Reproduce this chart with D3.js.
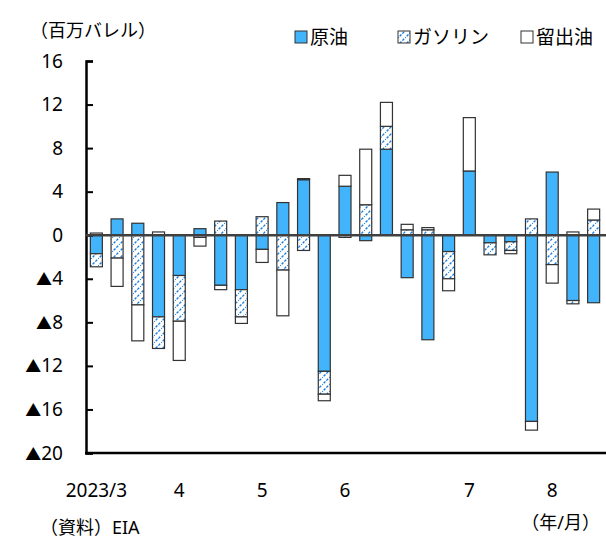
<!DOCTYPE html>
<html>
<head>
<meta charset="utf-8">
<script src="https://cdn.jsdelivr.net/npm/d3@7"></script>
<style>
  body { margin: 0; background: #fff; }
  text { font-family: "Noto Sans", "Noto Sans CJK JP", sans-serif; font-weight: 400; fill: #000; }
</style>
</head>
<body>
<svg></svg>
<script>
// weekly change in US inventories (million barrels)
const weeks = d3.range(25);
const crude = [-1.7, 1.5, 1.1, -7.5, -3.7, 0.6, -4.6, -5.0, -1.3, 3.0, 5.1, -12.5, 4.5, -0.5, 7.9, -3.9, -9.6, -1.5, 5.9, -0.7, -0.6, -17.1, 5.8, -6.0, -6.2];
const gasoline = [-1.2, -2.1, -6.4, -2.9, -4.2, -0.2, 1.3, -2.5, 1.7, -3.2, -1.4, -2.1, -0.2, 2.8, 2.1, 0.5, 0.5, -2.5, 0.0, -1.1, -0.8, 1.5, -2.7, -0.3, 1.4];
const distillate = [0.2, -2.6, -3.3, 0.3, -3.6, -0.8, -0.4, -0.6, -1.2, -4.2, 0.1, -0.6, 1.0, 5.1, 2.2, 0.5, 0.2, -1.1, 4.9, 0.0, -0.3, -0.8, -1.7, 0.3, 1.0];

const seriesNames = ["原油", "ガソリン", "留出油"];
const yTicks = [16, 12, 8, 4, 0, -4, -8, -12, -16, -20];
// month labels sit under the week index where the month starts
const monthTicks = [
  { i: 0, label: "2023/3" },
  { i: 4, label: "4" },
  { i: 8, label: "5" },
  { i: 12, label: "6" },
  { i: 18, label: "7" },
  { i: 22, label: "8" }
];

const width = 606, height = 539;
const margin = { left: 86, right: 2, top: 61, bottom: 86 };

const svg = d3.select("svg").attr("width", width).attr("height", height);

const defs = svg.append("defs");
const hatch = defs.append("pattern")
  .attr("id", "hatch")
  .attr("patternUnits", "userSpaceOnUse")
  .attr("width", 7)
  .attr("height", 7);
hatch.append("rect").attr("width", 7).attr("height", 7).attr("fill", "#fff");
hatch.append("path")
  .attr("d", "M-1,8 L8,-1")
  .attr("stroke", "#1a7ee0")
  .attr("stroke-width", 1.4)
  .attr("stroke-dasharray", "2.5,1.3");

const fills = ["#41b4fb", "url(#hatch)", "#fff"];

const x = d3.scaleBand()
  .domain(weeks)
  .range([margin.left, width - margin.right])
  .paddingInner(0.42)
  .paddingOuter(0.21);

const y = d3.scaleLinear()
  .domain([-20, 16])
  .range([height - margin.bottom, margin.top]);

const table = weeks.map(i => ({ i, 原油: crude[i], ガソリン: gasoline[i], 留出油: distillate[i] }));

const stacked = d3.stack()
  .keys(seriesNames)
  .offset(d3.stackOffsetDiverging)(table);

svg.selectAll("g.series")
  .data(stacked)
  .join("g")
  .attr("class", "series")
  .attr("fill", (d, k) => fills[k])
  .selectAll("rect")
  .data(d => d.filter(p => p[1] !== p[0]))
  .join("rect")
  .attr("x", d => x(d.data.i))
  .attr("width", x.bandwidth())
  .attr("y", d => y(Math.max(d[0], d[1])))
  .attr("height", d => Math.abs(y(d[0]) - y(d[1])))
  .attr("stroke", "#333")
  .attr("stroke-width", 1.2);

// y axis
const yAxis = d3.axisLeft(y)
  .tickValues(yTicks)
  .tickSize(-7)
  .tickPadding(23);

svg.append("g")
  .attr("transform", `translate(${margin.left},0)`)
  .call(yAxis)
  .call(g => g.select(".domain").attr("stroke", "#000").attr("stroke-width", 2.5))
  .call(g => g.selectAll(".tick line").attr("stroke", "#000").attr("stroke-width", 2))
  .call(g => g.selectAll(".tick text")
    .attr("font-size", 19)
    .attr("font-family", "'Noto Sans', 'Noto Sans CJK JP', sans-serif")
    .attr("fill", "#000")
    .text(null)
    .each(function(v) {
      const t = d3.select(this);
      if (v < 0) t.append("tspan").attr("font-size", 16).text("▲");
      t.append("tspan").text(Math.abs(v));
    }));

// zero line
svg.append("line")
  .attr("x1", margin.left).attr("x2", width)
  .attr("y1", y(0)).attr("y2", y(0))
  .attr("stroke", "#404040")
  .attr("stroke-width", 2.5);

// bottom line
svg.append("line")
  .attr("x1", margin.left - 1).attr("x2", width)
  .attr("y1", y(-20)).attr("y2", y(-20))
  .attr("stroke", "#000")
  .attr("stroke-width", 2.5);

// month labels
svg.append("g")
  .selectAll("text")
  .data(monthTicks)
  .join("text")
  .attr("x", d => x(d.i) + x.bandwidth() / 2)
  .attr("y", 497)
  .attr("text-anchor", "middle")
  .attr("font-size", 19)
  .text(d => d.label);

svg.append("text")
  .attr("x", 600).attr("y", 529)
  .attr("text-anchor", "end")
  .attr("font-size", 18)
  .text("（年/月）");

svg.append("text")
  .attr("x", 30).attr("y", 37)
  .attr("font-size", 18)
  .text("（百万バレル）");

svg.append("text")
  .attr("x", 40).attr("y", 534)
  .attr("font-size", 18)
  .text("（資料）EIA");

// legend
const legendX = [295, 398, 521];
const legend = svg.append("g")
  .selectAll("g")
  .data(seriesNames)
  .join("g")
  .attr("transform", (d, k) => `translate(${legendX[k]},38)`);

legend.append("rect")
  .attr("x", 0).attr("y", -7)
  .attr("width", 12).attr("height", 12)
  .attr("fill", (d, k) => fills[k])
  .attr("stroke", "#333")
  .attr("stroke-width", 1);

legend.append("text")
  .attr("x", 15).attr("y", 6)
  .attr("font-size", 19)
  .text(d => d);
</script>
</body>
</html>
